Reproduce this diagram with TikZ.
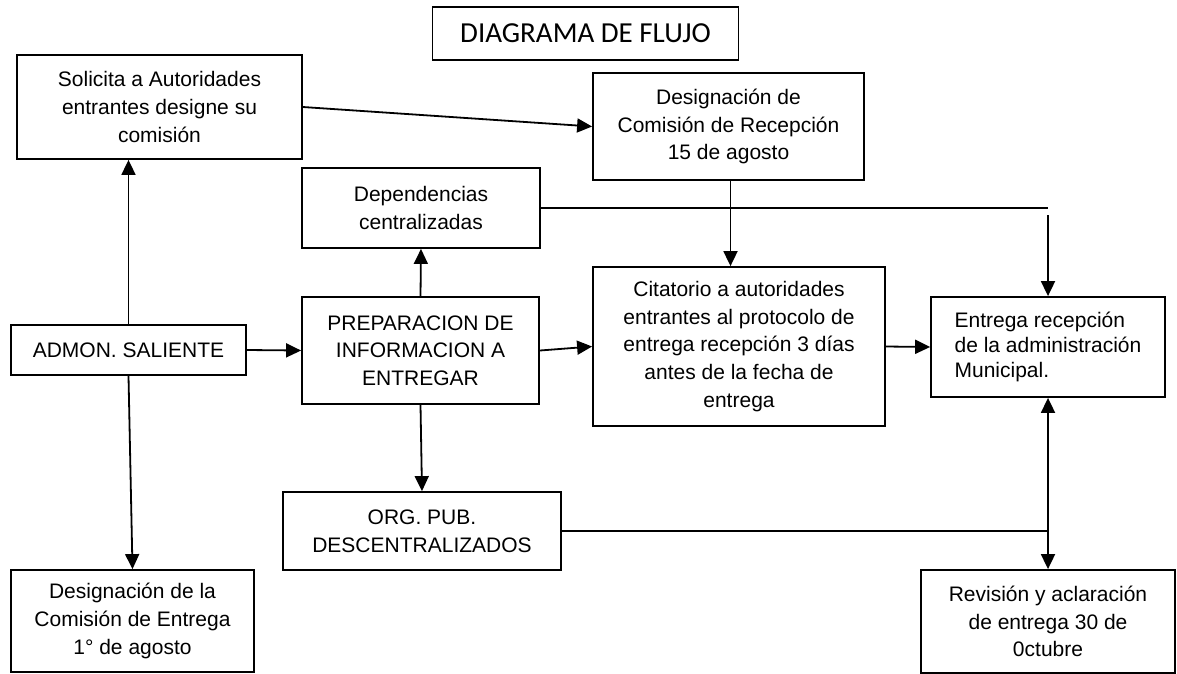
\documentclass[tikz,border=0pt]{standalone}
\usepackage{fontspec}
\setmainfont{Liberation Sans}
\newfontfamily\titlefont{Carlito}
\usetikzlibrary{arrows.meta}

\begin{document}
\begin{tikzpicture}[x=1pt,y=-1pt,
  caja/.style={draw,line width=1.8pt,align=center,inner sep=0pt,
    font=\fontsize{21}{27.7}\selectfont},
  flecha/.style={line width=1.8pt,-{Triangle[length=15pt,width=14pt]}},
  linea/.style={line width=1.8pt}]
  \useasboundingbox (0,0) rectangle (1177,673);
  % titulo
  \node[draw,line width=1.6pt,minimum width=306pt,minimum height=53pt,
    font=\titlefont\fontsize{29}{35}\selectfont] (titulo) at (585.5,33.5) {DIAGRAMA DE FLUJO};
  % cajas del proceso
  \node[caja,minimum width=285pt,minimum height=104pt] (solicita) at (159.5,107)
    {Solicita a Autoridades\\entrantes designe su\\comisión};
  \node[caja,minimum width=271pt,minimum height=107pt] (desrec) at (728.5,126.5)
    {Designación de\\Comisión de Recepción\\15 de agosto};
  \node[caja,minimum width=238pt,minimum height=80pt] (dep) at (421,208)
    {Dependencias\\centralizadas};
  \node[caja,minimum width=235pt,minimum height=50pt] (admon) at (128.5,350)
    {ADMON. SALIENTE};
  \node[caja,minimum width=237pt,minimum height=107pt] (prep) at (420.5,350.5)
    {PREPARACION DE\\INFORMACION A\\ENTREGAR};
  \node[caja,minimum width=292pt,minimum height=159pt] (citatorio) at (739,346.5)
    {Citatorio a autoridades\\entrantes al protocolo de\\entrega recepción 3 días\\antes de la fecha de\\entrega};
  \node[caja,align=left,minimum width=234pt,minimum height=100pt,
    font=\fontsize{21}{25}\selectfont] (entrega) at (1048,347)
    {Entrega recepción\\de la administración\\Municipal.};
  \node[caja,minimum width=278pt,minimum height=78pt] (org) at (422,531)
    {ORG. PUB.\\DESCENTRALIZADOS};
  \node[caja,minimum width=243pt,minimum height=102pt] (desent) at (132.5,621)
    {Designación de la\\Comisión de Entrega\\1° de agosto};
  \node[caja,minimum width=254pt,minimum height=103pt] (revision) at (1048,621.5)
    {Revisión y aclaración\\de entrega 30 de\\0ctubre};
  % conectores
  \draw[flecha] (solicita.east) -- (desrec.west);
  \draw[flecha] (admon.north) -- (admon.north |- solicita.south);
  \draw[flecha] (admon.south) -- (desent.north);
  \draw[flecha] (admon.east) -- (prep.west);
  \draw[flecha] (prep.north) -- (dep.south);
  \draw[flecha] (prep.south) -- (org.north);
  \draw[flecha] (prep.east) -- (citatorio.west);
  \draw[flecha] ([xshift=2pt]desrec.south) -- ([xshift=2pt]desrec.south |- citatorio.north);
  \draw[flecha] (citatorio.east) -- (entrega.west);
  % ramales hacia la entrega
  \coordinate (depfin) at (entrega.north |- dep.east);
  \draw[linea] (dep.east) -- (depfin);
  \draw[flecha] ([yshift=-7pt]depfin) -- (entrega.north);
  \coordinate (orgfin) at (entrega.south |- org.east);
  \draw[linea] (org.east) -- (orgfin);
  \draw[flecha,{Triangle[length=15pt,width=14pt]}-{Triangle[length=15pt,width=14pt]}] (entrega.south) -- (revision.north);
\end{tikzpicture}
\end{document}
